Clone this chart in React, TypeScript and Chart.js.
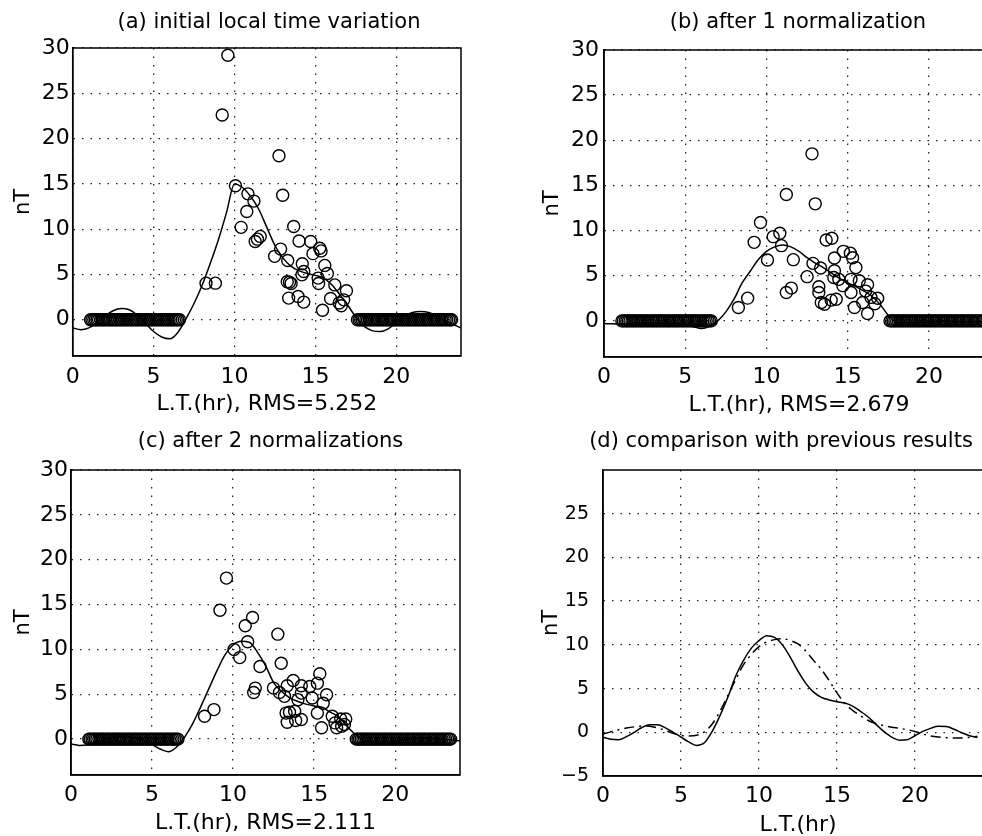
import React, { useEffect, useRef } from "react";
import { Chart, registerables } from "chart.js";
Chart.register(...registerables);

// ---------- data ----------
const fitLT = [0,0.5,1,1.5,2,2.5,3,3.5,4,4.5,5,5.5,6,6.5,7,7.5,8,8.5,9,9.5,10,10.5,11,11.5,12,12.5,13,13.5,14,14.5,15,15.5,16,16.5,17,17.5,18,18.5,19,19.5,20,20.5,21,21.5,22,22.5,23,23.5,24];
const fitA = [-0.9,-1.1,-0.9,-0.3,0.4,1.0,1.25,1.1,0.5,-0.4,-1.3,-1.9,-2.1,-1.4,0.1,1.8,3.8,6.2,8.8,11.8,15.0,14.6,13.6,12.2,10.2,8.2,6.8,5.9,5.4,5.1,4.9,4.6,3.9,2.8,1.6,0.3,-0.7,-1.2,-1.3,-1.0,-0.3,0.4,0.8,0.9,0.8,0.4,-0.1,-0.5,-0.9];
const fitB = [-0.3,-0.32,-0.35,-0.33,-0.3,-0.3,-0.3,-0.3,-0.3,-0.33,-0.4,-0.65,-0.85,-0.6,0.0,1.0,2.4,4.2,5.5,6.8,7.7,8.2,8.4,8.2,7.7,7.0,6.4,5.9,5.3,4.7,4.2,3.8,3.3,2.7,1.8,0.6,-0.1,-0.2,-0.2,-0.15,-0.1,-0.05,0.0,-0.05,-0.1,-0.1,-0.1,-0.15,-0.2];
const fitC = [-0.55,-0.7,-0.65,-0.4,-0.1,0.15,0.3,0.3,0.1,-0.2,-0.6,-1.1,-1.4,-0.9,0.2,1.7,3.6,5.6,7.6,9.4,10.5,10.9,10.8,9.7,8.2,6.3,5.3,4.6,4.2,3.9,3.7,3.55,3.0,2.5,1.5,0.6,-0.1,-0.3,-0.4,-0.4,-0.2,-0.05,0.05,0.1,0.1,0.05,-0.05,-0.1,-0.2];
const presentD = [-0.57,-0.8,-0.85,-0.5,0.0,0.55,0.85,0.85,0.5,0.0,-0.55,-1.1,-1.5,-1.2,0.1,1.9,4.0,6.4,8.2,9.6,10.5,11.05,10.85,10.0,8.6,7.0,5.6,4.6,4.0,3.7,3.5,3.35,3.0,2.4,1.75,0.9,0.1,-0.55,-0.9,-0.85,-0.4,0.1,0.45,0.68,0.65,0.35,-0.05,-0.4,-0.6];
const previousD = [-0.2,0.05,0.3,0.48,0.62,0.72,0.7,0.5,0.2,-0.1,-0.35,-0.42,-0.35,0.05,0.95,2.4,4.2,6.0,7.7,8.9,9.8,10.35,10.6,10.7,10.5,10.1,9.3,8.2,7.2,5.9,4.5,3.3,2.5,1.9,1.35,1.0,0.75,0.58,0.45,0.3,0.1,-0.2,-0.42,-0.55,-0.63,-0.65,-0.65,-0.58,-0.45];

// observations with zero value (night side), same local times in (a)-(c)
const quietLT = [1.1,1.19,1.3,1.4,1.5,1.6,1.72,1.82,1.92,2.02,2.14,2.25,2.35,2.46,2.57,2.68,2.78,2.9,3.0,3.1,3.22,3.32,3.43,3.55,3.66,3.76,3.88,3.98,4.08,4.2,4.31,4.42,4.53,4.63,4.75,4.86,4.96,5.08,5.18,5.3,5.41,5.52,5.63,5.74,5.85,5.96,6.07,6.18,6.29,6.4,6.5,6.6,
  17.6,17.7,17.8,17.9,18.01,18.12,18.22,18.34,18.44,18.55,18.66,18.77,18.88,18.98,19.1,19.2,19.32,19.42,19.53,19.64,19.75,19.86,19.96,20.08,20.18,20.3,20.4,20.51,20.62,20.73,20.84,20.94,21.06,21.16,21.28,21.38,21.49,21.6,21.71,21.82,21.92,22.04,22.14,22.26,22.36,22.47,22.58,22.69,22.8,22.9,23.02,23.12,23.24,23.34,23.42];

const aLT = [9.59,9.24,12.75,10.06,10.83,11.2,12.98,10.76,10.41,13.66,11.28,11.59,11.42,12.85,12.48,13.99,14.71,15.27,15.35,14.85,13.29,14.19,14.28,14.17,15.58,15.74,15.17,15.2,13.26,13.5,13.4,13.35,13.93,14.28,16.2,16.92,15.94,15.44,16.47,16.75,16.6,8.24,8.82];
const aVal = [29.2,22.6,18.1,14.8,13.9,13.1,13.75,11.95,10.2,10.3,8.64,9.2,8.9,7.8,7.0,8.7,8.64,7.9,7.6,7.3,6.54,6.18,5.33,4.96,6.0,5.1,4.6,4.0,4.2,4.0,4.15,2.39,2.57,1.95,3.85,3.2,2.35,1.05,1.85,2.2,1.55,4.04,4.04];

const bLT = [12.8,11.22,13.0,9.63,9.24,10.41,10.82,10.92,10.06,11.65,13.67,14.02,14.73,15.16,15.3,15.5,14.18,12.86,13.33,12.5,14.18,14.14,14.45,14.7,15.2,15.71,16.22,16.1,15.2,13.22,13.22,13.37,13.57,13.98,14.29,11.22,11.53,15.41,16.22,15.92,16.43,16.84,16.67,8.27,8.84];
const bVal = [18.5,14.0,12.96,10.9,8.7,9.33,9.7,8.33,6.74,6.78,8.96,9.15,7.7,7.5,7.0,5.9,6.96,6.37,5.85,4.9,5.56,4.8,4.6,3.9,4.6,4.44,4.0,3.3,3.15,3.78,3.15,2.04,1.85,2.3,2.4,3.15,3.63,1.48,0.81,2.04,2.6,2.5,1.9,1.48,2.52];

const cLT = [9.59,9.19,11.2,10.75,12.76,10.06,10.9,10.41,11.66,12.97,11.37,11.27,12.49,12.86,13.17,13.34,13.71,14.21,14.21,14.73,15.2,15.35,15.77,14.88,14.0,15.56,15.2,13.27,13.48,13.8,13.34,13.86,14.21,15.46,16.12,16.29,16.64,16.95,16.87,16.39,16.7,8.24,8.82];
const cVal = [17.95,14.37,13.56,12.63,11.7,10.0,10.86,9.09,8.09,8.46,5.69,5.2,5.69,5.2,4.77,5.95,6.54,5.95,5.13,5.87,6.24,7.28,4.95,4.58,4.4,4.0,2.9,2.9,2.99,3.1,1.88,2.07,2.18,1.26,2.55,1.81,2.25,2.25,1.63,1.26,1.44,2.55,3.29];

const xTicks = [0, 5, 10, 15, 20];
const yTicksABC = [0, 5, 10, 15, 20, 25, 30];
const yTicksD = [-5, 0, 5, 10, 15, 20, 25];

const titles = [
  "(a) initial local time variation",
  "(b) after 1 normalization",
  "(c) after 2 normalizations",
  "(d) comparison with previous results",
];
const xTitles = ["L.T.(hr), RMS=5.252", "L.T.(hr), RMS=2.679", "L.T.(hr), RMS=2.111", "L.T.(hr)"];

// ---------- helpers ----------
const FONT = "'DejaVu Sans', sans-serif";
const pts = (xs: number[], ys: number[]) => xs.map((x, i) => ({ x, y: ys[i] }));
const zeros = (xs: number[]) => xs.map((x) => ({ x, y: 0 }));

const circles = (data: any[]) => ({
  data,
  showLine: false,
  pointStyle: "circle",
  pointRadius: 6,
  pointBorderWidth: 1.4,
  pointBorderColor: "#000",
  pointBackgroundColor: "rgba(0,0,0,0)",
});
const curve = (ys: number[], dash: number[] = []) => ({
  data: pts(fitLT, ys),
  showLine: true,
  pointRadius: 0,
  borderColor: "#000",
  borderWidth: 1.5,
  borderDash: dash,
  cubicInterpolationMode: "monotone",
  fill: false,
});

const boxPlugin = {
  id: "box",
  afterDatasetsDraw(chart: any) {
    const { ctx, chartArea } = chart;
    const { left, top, right, bottom } = chartArea;
    ctx.save();
    ctx.strokeStyle = "#000";
    ctx.lineWidth = 1.5;
    ctx.setLineDash([]);
    ctx.strokeRect(left, top, right - left, bottom - top);
    ctx.restore();
  },
};

type Cfg = {
  left: number; top: number; width: number; height: number;
  title: string; xTitle: string;
  yMin: number; yMax: number; xMax: number; yTicks: number[];
  yAxisW: number; rightW: number; xAxisH: number;
  titlePad: { top: number; bottom: number };
  yTickPad: number; yTickSize: number; yTitlePad: number; xTickPad: number; xTitlePad: number;
  datasets: any[];
};

const panels: Cfg[] = [
  {
    left: 0, top: 0, width: 538, height: 418, title: titles[0], xTitle: xTitles[0],
    yMin: -4, yMax: 30, xMax: 24, yTicks: yTicksABC,
    yAxisW: 72.7, rightW: 77, xAxisH: 62, titlePad: { top: 10.4, bottom: 12.4 },
    yTickPad: 3, yTickSize: 22, yTitlePad: 11.4, xTickPad: 8, xTitlePad: 1,
    datasets: [circles([...pts(aLT, aVal), ...zeros(quietLT)]), curve(fitA)],
  },
  {
    left: 491, top: 0, width: 614, height: 418, title: titles[1], xTitle: xTitles[1],
    yMin: -4, yMax: 30, xMax: 24, yTicks: yTicksABC,
    yAxisW: 113, rightW: 111, xAxisH: 61, titlePad: { top: 10.4, bottom: 14.4 },
    yTickPad: 5, yTickSize: 22, yTitlePad: 49.4, xTickPad: 7, xTitlePad: 0,
    datasets: [circles([...pts(bLT, bVal), ...zeros(quietLT)]), curve(fitB)],
  },
  {
    left: 0, top: 418, width: 541, height: 418, title: titles[2], xTitle: xTitles[2],
    yMin: -4, yMax: 30, xMax: 24, yTicks: yTicksABC,
    yAxisW: 71, rightW: 81, xAxisH: 61, titlePad: { top: 11.4, bottom: 15.4 },
    yTickPad: 3, yTickSize: 22, yTitlePad: 11.4, xTickPad: 7, xTitlePad: 0,
    datasets: [circles([...pts(cLT, cVal), ...zeros(quietLT)]), curve(fitC)],
  },
  {
    left: 491, top: 418, width: 580, height: 418, title: titles[3], xTitle: xTitles[3],
    yMin: -5, yMax: 30, xMax: 25, yTicks: yTicksD,
    yAxisW: 112, rightW: 78, xAxisH: 60, titlePad: { top: 11.4, bottom: 15.4 },
    yTickPad: 14, yTickSize: 19, yTitlePad: 48, xTickPad: 7, xTitlePad: -2,
    datasets: [curve(presentD), curve(previousD, [10, 5, 2, 5])],
  },
];

function Panel({ cfg }: { cfg: Cfg }) {
  const ref = useRef<HTMLCanvasElement | null>(null);
  useEffect(() => {
    if (!ref.current) return;
    const chart = new Chart(ref.current, {
      type: "scatter",
      data: { datasets: cfg.datasets },
      plugins: [boxPlugin],
      options: {
        animation: false,
        responsive: false,
        devicePixelRatio: 1,
        events: [],
        layout: { padding: 0 },
        plugins: {
          legend: { display: false },
          tooltip: { enabled: false },
          title: {
            display: true,
            text: cfg.title,
            color: "#000",
            font: { family: FONT, size: 21, weight: "normal" },
            padding: cfg.titlePad,
          },
        },
        scales: {
          x: {
            type: "linear",
            position: "bottom",
            min: 0,
            max: cfg.xMax,
            afterBuildTicks: (ax: any) => { ax.ticks = xTicks.map((v) => ({ value: v })); },
            afterFit: (ax: any) => { ax.height = cfg.xAxisH; },
            ticks: { color: "#000", font: { family: FONT, size: 22 }, padding: cfg.xTickPad, maxRotation: 0, autoSkip: false },
            grid: { color: "#222", lineWidth: 1.3, drawTicks: false },
            border: { display: true, color: "#000", width: 1.5, dash: [1.5, 7] },
            title: {
              display: true, text: cfg.xTitle, color: "#000",
              font: { family: FONT, size: 22 }, padding: { top: 0, bottom: cfg.xTitlePad },
            },
          },
          y: {
            type: "linear",
            position: "left",
            min: cfg.yMin,
            max: cfg.yMax,
            afterBuildTicks: (ax: any) => { ax.ticks = cfg.yTicks.map((v) => ({ value: v })); },
            afterFit: (ax: any) => { ax.width = cfg.yAxisW; },
            ticks: {
              color: "#000", font: { family: FONT, size: cfg.yTickSize }, padding: cfg.yTickPad, autoSkip: false,
              callback: (v: any) => String(v).replace("-", "\u2212"),
            },
            grid: { color: "#222", lineWidth: 1.3, drawTicks: false },
            border: { display: true, color: "#000", width: 1.5, dash: [1.5, 7] },
            title: {
              display: true, text: "nT", color: "#000",
              font: { family: FONT, size: 21 }, padding: { top: cfg.yTitlePad, bottom: 0 },
            },
          },
          pad: {
            type: "linear",
            position: "right",
            display: true,
            grid: { display: false },
            ticks: { display: false },
            border: { display: false },
            afterFit: (ax: any) => { ax.width = cfg.rightW; },
          },
        },
      } as any,
    });
    return () => chart.destroy();
  }, [cfg]);
  return (
    <canvas
      ref={ref}
      width={cfg.width}
      height={cfg.height}
      style={{ position: "absolute", left: cfg.left, top: cfg.top, width: cfg.width, height: cfg.height }}
    />
  );
}

export default function App() {
  return (
    <div
      style={{
        position: "absolute", left: 0, top: 0, width: 982, height: 836,
        overflow: "hidden", background: "#fff",
      }}
    >
      {panels.map((p, i) => (
        <Panel key={i} cfg={p} />
      ))}
    </div>
  );
}
